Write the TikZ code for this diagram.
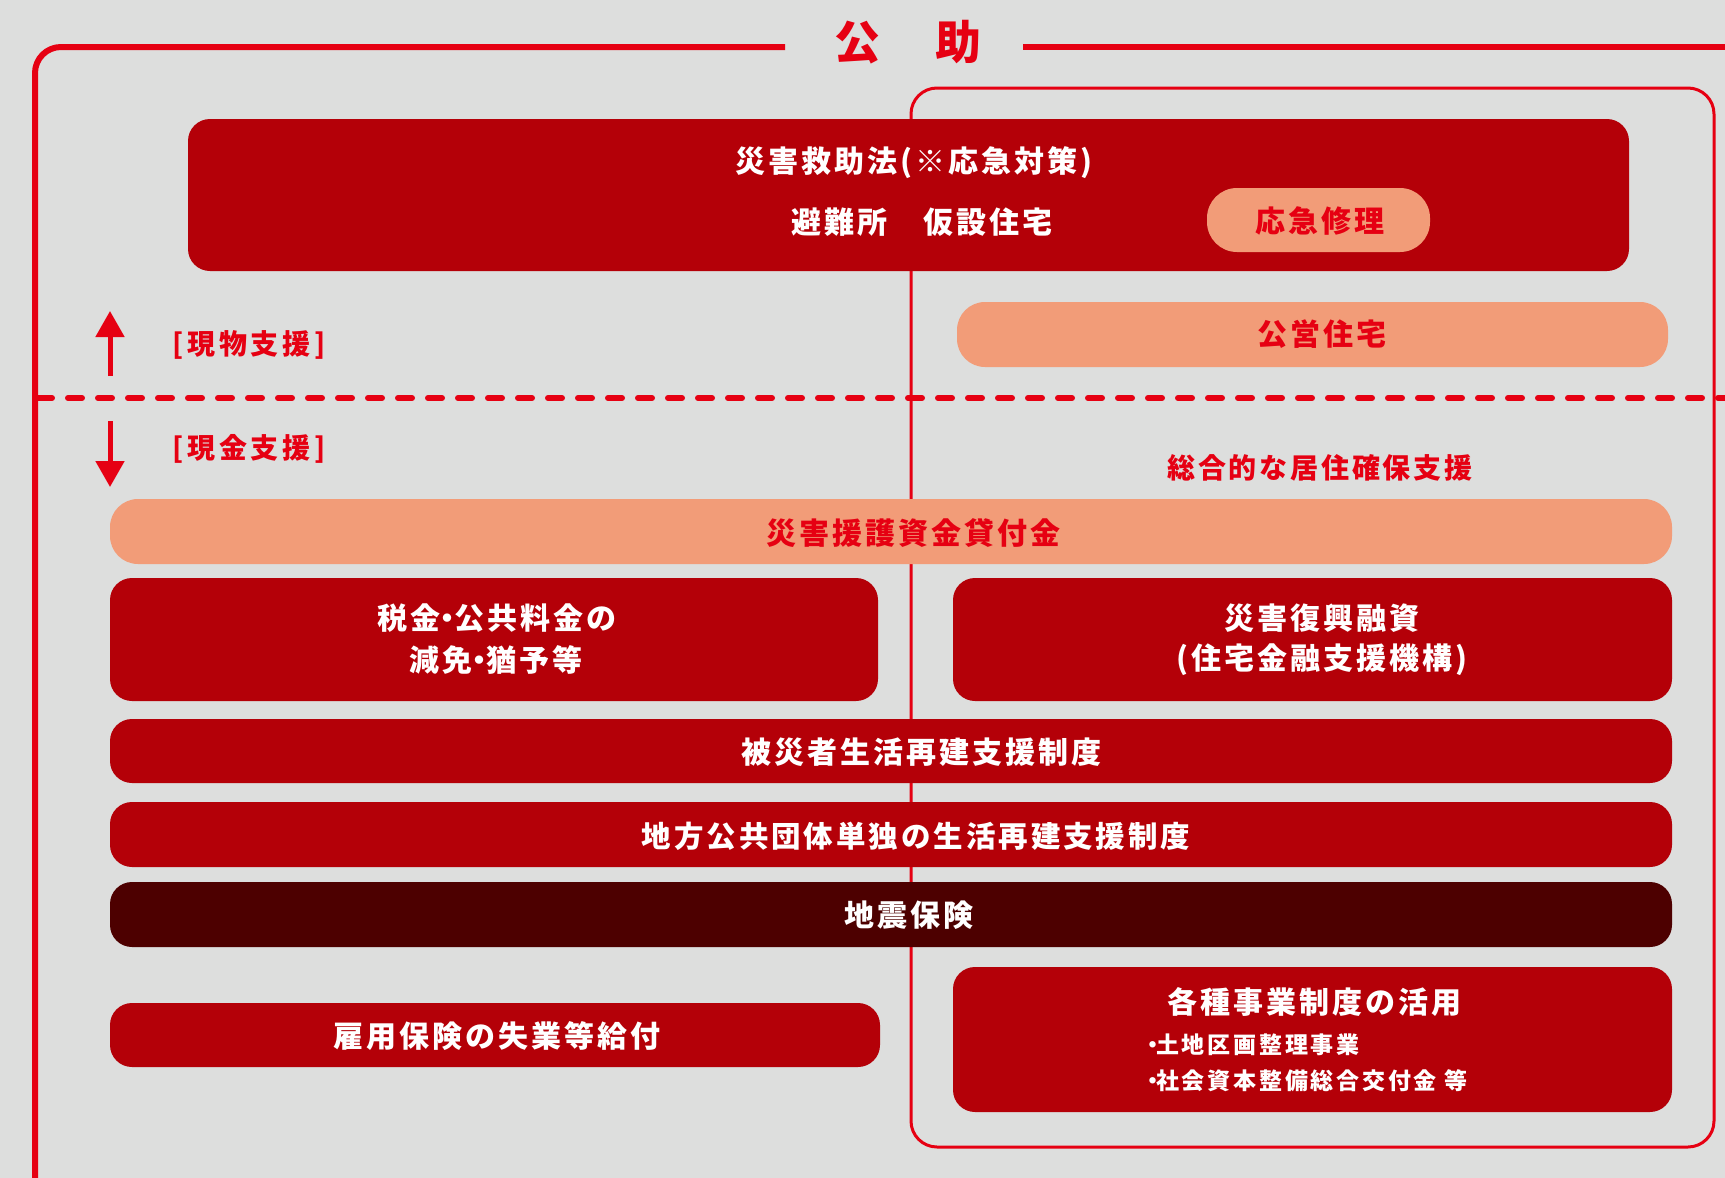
\documentclass[tikz,border=0pt]{standalone}
\usepackage{fontspec}
\usetikzlibrary{arrows.meta}
\newfontfamily\jp{Noto Sans CJK JP}[LetterSpace=10]
\newfontfamily\jpn{Noto Sans CJK JP}[LetterSpace=12]
\newfontfamily\jpw{Noto Sans CJK JP}[LetterSpace=14]
\definecolor{bg}{RGB}{221,222,221}
\definecolor{cred}{RGB}{180,0,8}
\definecolor{lred}{RGB}{230,0,18}
\definecolor{salmon}{RGB}{242,156,120}
\definecolor{dark}{RGB}{77,0,0}
\newcommand\dotj{{\kern-8pt}・{\kern-8pt}}
\begin{document}
\begin{tikzpicture}[x=1pt,y=-1pt,
  box/.style={fill=cred, rounded corners=22pt, inner sep=0pt, draw=none},
  pill/.style={fill=salmon, rounded corners=28pt, inner sep=0pt, draw=none},
  wt/.style={text=white, inner sep=0pt, font=\jp\bfseries\fontsize{30}{34}\selectfont},
  rt/.style={text=lred, inner sep=0pt, font=\jp\bfseries\fontsize{30}{34}\selectfont},
  st/.style={text=white, inner sep=0pt, anchor=west, font=\jpn\bfseries\fontsize{23}{27}\selectfont},
  frame/.style={draw=lred, line width=6pt},
  arr/.style={draw=lred, line width=5pt, -{Triangle[width=28pt,length=26pt]}}
]
\fill[bg] (0,0) rectangle (1725,1178);
\useasboundingbox (0,0) rectangle (1725,1178);
\clip (0,0) rectangle (1725,1178);

% outer frame
\draw[frame, rounded corners=26pt] (785,47) -| (35,1230);
\draw[frame] (1023,47) -- (1730,47);
\node[text=lred, inner sep=0pt, font=\jp\bfseries\fontsize{46}{50}\selectfont] (title) at (908,42) {公　助};

% inner frame
\draw[draw=lred, line width=3pt, rounded corners=26pt] (911,88) rectangle (1714,1147);

% dashed separator
\draw[draw=lred, line width=6pt, line cap=round, dash pattern=on 14pt off 16pt] (38,398) -- (1730,398);

% arrows and labels
\coordinate (ua1) at (110,376);
\coordinate (ua2) at (110,311);
\coordinate (da1) at (110,421);
\coordinate (da2) at (110,487);
\draw[arr] (ua1) -- (ua2);
\draw[arr] (da1) -- (da2);
\node[rt, font=\jpw\bfseries\fontsize{28}{32}\selectfont] (genbutsu) at (249,345) {[現物支援]};
\node[rt, font=\jpw\bfseries\fontsize{28}{32}\selectfont] (genkin) at (249,449) {[現金支援]};
\node[rt, font=\jp\bfseries\fontsize{28}{32}\selectfont] (sogo) at (1320,468) {総合的な居住確保支援};

% boxes
\node[box, minimum width=1441pt, minimum height=152pt] (kyujo) at (908.5,195) {};
\node[wt] (kyujoT) at (914,163) {災害救助法(※応急対策)};
\node[wt] (hinan) at (922,222) {避難所　仮設住宅};
\node[pill, minimum width=223pt, minimum height=64pt, rounded corners=30pt] (okyu) at (1318.5,220) {};
\node[rt] (okyuT) at (1320,221) {応急修理};

\node[pill, minimum width=711pt, minimum height=65pt] (kouei) at (1312.5,334.5) {};
\node[rt] (koueiT) at (1322,334) {公営住宅};

\node[pill, minimum width=1562pt, minimum height=65pt] (engo) at (891,531.5) {};
\node[rt] (engoT) at (913,533) {災害援護資金貸付金};

\node[box, minimum width=768pt, minimum height=123pt] (zeikin) at (494,639.5) {};
\node[wt] (zeikinT1) at (497,618) {税金\dotj 公共料金の};
\node[wt] (zeikinT2) at (496,660) {減免\dotj 猶予等};

\node[box, minimum width=719pt, minimum height=123pt] (fukko) at (1312.5,639.5) {};
\node[wt] (fukkoT1) at (1322,618) {災害復興融資};
\node[wt] (fukkoT2) at (1322,660) {(住宅金融支援機構)};

\node[box, minimum width=1562pt, minimum height=64pt] (hisai) at (891,751) {};
\node[wt] (hisaiT) at (921,752) {被災者生活再建支援制度};

\node[box, minimum width=1562pt, minimum height=65pt] (chiho) at (891,834.5) {};
\node[wt, font=\jp\bfseries\fontsize{29.5}{34}\selectfont] (chihoT) at (916,836) {地方公共団体単独の生活再建支援制度};

\node[box, fill=dark, minimum width=1562pt, minimum height=65pt] (jishin) at (891,914.5) {};
\node[wt] (jishinT) at (909,915) {地震保険};

\node[box, minimum width=770pt, minimum height=64pt] (koyo) at (495,1035) {};
\node[wt] (koyoT) at (497,1036) {雇用保険の失業等給付};

\node[box, minimum width=719pt, minimum height=145pt] (kakushu) at (1312.5,1039.5) {};
\node[wt] (kakushuT) at (1314,1002) {各種事業制度の活用};
\node[st] (b1) at (1141,1045) {・{\kern-8pt}土地区画整理事業};
\node[st] (b2) at (1141,1081) {・{\kern-8pt}社会資本整備総合交付金 等};
\end{tikzpicture}
\end{document}
